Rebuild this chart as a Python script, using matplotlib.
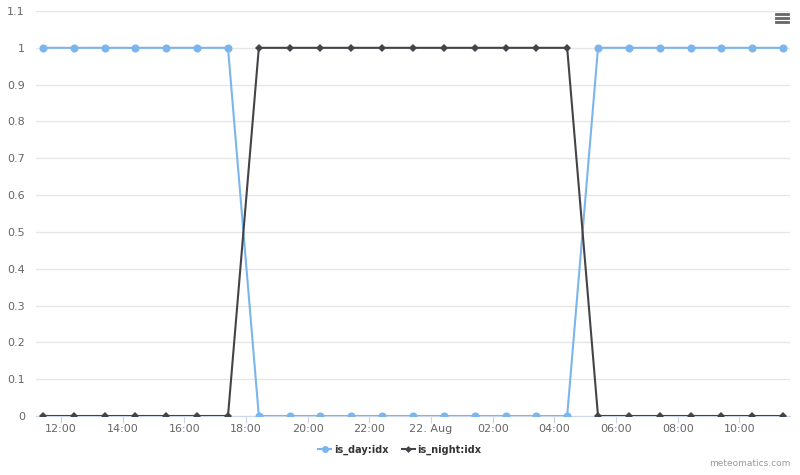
import matplotlib
matplotlib.use("Agg")
import matplotlib.pyplot as plt
import matplotlib.dates as mdates
from matplotlib.lines import Line2D
from datetime import datetime, timedelta

# hourly samples, 21 Aug 11:25 -> 22 Aug 11:25
start = datetime(2023, 8, 21, 11, 25)
times = [start + timedelta(hours=h) for h in range(25)]
is_day = [1, 1, 1, 1, 1, 1, 1,
          0, 0, 0, 0, 0, 0, 0, 0, 0, 0, 0,
          1, 1, 1, 1, 1, 1, 1]
is_night = [0, 0, 0, 0, 0, 0, 0,
            1, 1, 1, 1, 1, 1, 1, 1, 1, 1, 1,
            0, 0, 0, 0, 0, 0, 0]
series_names = ["is_day:idx", "is_night:idx"]
y_ticks = [0, 0.1, 0.2, 0.3, 0.4, 0.5, 0.6, 0.7, 0.8, 0.9, 1, 1.1]
y_labels = ["0", "0.1", "0.2", "0.3", "0.4", "0.5", "0.6", "0.7", "0.8", "0.9", "1", "1.1"]

day_color = "#7cb5ec"
night_color = "#434348"

fig = plt.figure(figsize=(8, 4.75), dpi=100)
ax = fig.add_axes([36 / 800, 1 - 416 / 475, 754 / 800, 405 / 475])

ax.plot(times, is_day, color=day_color, linewidth=1.5, marker="o", markersize=5.8,
        markeredgewidth=0, zorder=3)
ax.plot(times, is_night, color=night_color, linewidth=1.5, marker="D", markersize=4,
        markeredgewidth=0, zorder=4)

pad = timedelta(hours=0.227)
ax.set_xlim(times[0] - pad, times[-1] + pad)
ax.set_ylim(0, 1.1)

ax.set_yticks(y_ticks)
ax.set_yticklabels(y_labels)
ax.grid(axis="y", color="#e6e6e6", linewidth=1)
ax.set_axisbelow(True)

def fmt(x, pos=None):
    d = mdates.num2date(x)
    if d.hour == 0 and d.minute == 0:
        return d.strftime("%d. %b")
    return d.strftime("%H:%M")

ax.xaxis.set_major_locator(mdates.HourLocator(byhour=range(0, 24, 2)))
ax.xaxis.set_major_formatter(plt.FuncFormatter(fmt))

for s in ["top", "right", "left"]:
    ax.spines[s].set_visible(False)
ax.spines["bottom"].set_color("#ccd6eb")
ax.tick_params(axis="y", length=0, labelsize=8, labelcolor="#666666", pad=8)
ax.tick_params(axis="x", length=5, color="#ccd6eb", labelsize=8, labelcolor="#666666", pad=0.5)

handles = [
    Line2D([], [], color=day_color, linewidth=1.5, marker="o", markersize=5, markeredgewidth=0),
    Line2D([], [], color=night_color, linewidth=1.5, marker="D", markersize=3.5, markeredgewidth=0),
]
leg = fig.legend(handles, series_names, loc="center", bbox_to_anchor=(0.5, 1 - 450 / 475),
                 ncol=2, frameon=False, handlelength=1.3, columnspacing=1.4, handletextpad=0.3,
                 prop={"size": 7, "weight": "bold"})
for t in leg.get_texts():
    t.set_color("#333333")

fig.text(790 / 800, 1 - 463 / 475, "meteomatics.com", ha="right", va="center",
         fontsize=6.5, color="#999999")

# menu icon
for yy in [14, 18, 22]:
    fig.add_artist(Line2D([776 / 800, 788 / 800], [1 - yy / 475, 1 - yy / 475],
                          color="#666666", linewidth=2, transform=fig.transFigure))

fig.savefig("out.png", dpi=100, facecolor="white")
